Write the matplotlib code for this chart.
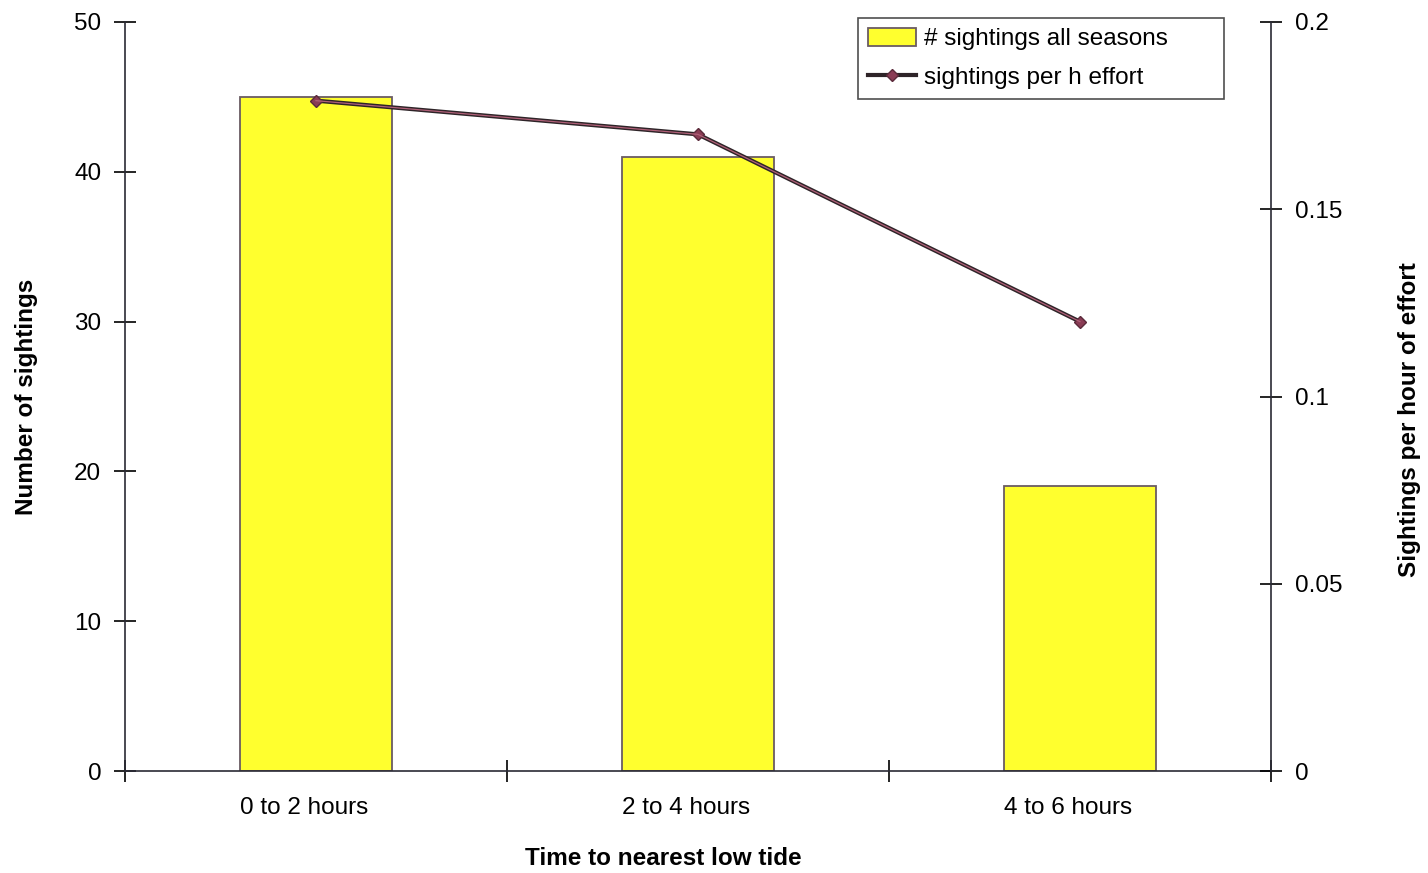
import numpy as np
import matplotlib
matplotlib.use('Agg')
import matplotlib.pyplot as plt
from matplotlib.transforms import ScaledTranslation

plt.rcParams['font.family'] = ['Liberation Sans', 'DejaVu Sans']

categories = ['0 to 2 hours', '2 to 4 hours', '4 to 6 hours']
sightings = [45, 41, 19]
per_hour = [0.179, 0.170, 0.120]

FS = 17.5

fig = plt.figure(figsize=(14.28, 8.73), dpi=100)
ax = fig.add_axes([0.0875, 0.1168, 0.8025, 0.858])
x = np.arange(len(categories))

bars = ax.bar(x, sightings, width=0.40, color='#ffff2e', edgecolor='#6a5c62',
              linewidth=1.3, label='# sightings all seasons', zorder=2)
ax.set_xlim(-0.5, len(categories) - 0.5)
ax.set_ylim(0, 50)
ax.set_yticks(range(0, 51, 10))

# boundaries get the tick marks, category names sit between them
ax.set_xticks(np.arange(-0.5, len(categories), 1.0))
ax.set_xticklabels([])
ax.set_xticks(x, minor=True)
ax.set_xticklabels(categories, minor=True)
ax.tick_params(axis='x', which='minor', length=0, pad=19, labelsize=FS)
ax.tick_params(axis='x', which='major', direction='inout', length=16, width=1.2)
ax.tick_params(axis='y', direction='inout', length=16, width=1.2, labelsize=FS, pad=9)
shift = ScaledTranslation(-12 / 100, 0, fig.dpi_scale_trans)
for lbl in ax.get_xticklabels(minor=True):
    lbl.set_transform(lbl.get_transform() + shift)

ax.spines['top'].set_visible(False)
ax.spines['right'].set_visible(False)
for s in ['left', 'bottom']:
    ax.spines[s].set_color('#2a2a35')
    ax.spines[s].set_linewidth(1.2)

ax.set_xlabel('Time to nearest low tide', fontsize=FS, fontweight='bold')
ax.xaxis.set_label_coords(0.47, -0.101)
ax.set_ylabel('Number of sightings', fontsize=FS, fontweight='bold')
ax.yaxis.set_label_coords(-0.076, 0.5)

ax2 = ax.twinx()
line, = ax2.plot(x, per_hour, color='#2e2428', linewidth=3.0, marker='D',
                 markersize=6, markerfacecolor='#8a3c55', markeredgecolor='#5a2a3a',
                 label='sightings per h effort', zorder=3)
ax2.plot(x, per_hour, color='#b06078', linewidth=0.9, zorder=4)
ax2.set_ylim(0, 0.2)
ax2.set_yticks([0, 0.05, 0.1, 0.15, 0.2])
ax2.set_yticklabels(['0', '0.05', '0.1', '0.15', '0.2'])
ax2.tick_params(axis='y', direction='inout', length=16, width=1.2, labelsize=FS, pad=9)
ax2.spines['top'].set_visible(False)
ax2.spines['left'].set_visible(False)
ax2.spines['bottom'].set_visible(False)
ax2.spines['right'].set_color('#2a2a35')
ax2.spines['right'].set_linewidth(1.2)
ax2.set_ylabel('Sightings per hour of effort', fontsize=FS, fontweight='bold')
ax2.yaxis.set_label_coords(1.111, 0.469)

# trailing spaces leave the empty room on the right of the legend box
leg = ax2.legend([bars, line], ['# sightings all seasons' + ' ' * 7, 'sightings per h effort'],
                 loc='upper left', bbox_to_anchor=(0.6396, 1.0053), fontsize=FS,
                 frameon=True, fancybox=False, edgecolor='#222222',
                 handlelength=2.0, handleheight=0.8, handletextpad=0.3,
                 borderpad=0.4, labelspacing=0.65, borderaxespad=0)
leg.get_frame().set_linewidth(1.2)

fig.savefig('out.png', dpi=100)
